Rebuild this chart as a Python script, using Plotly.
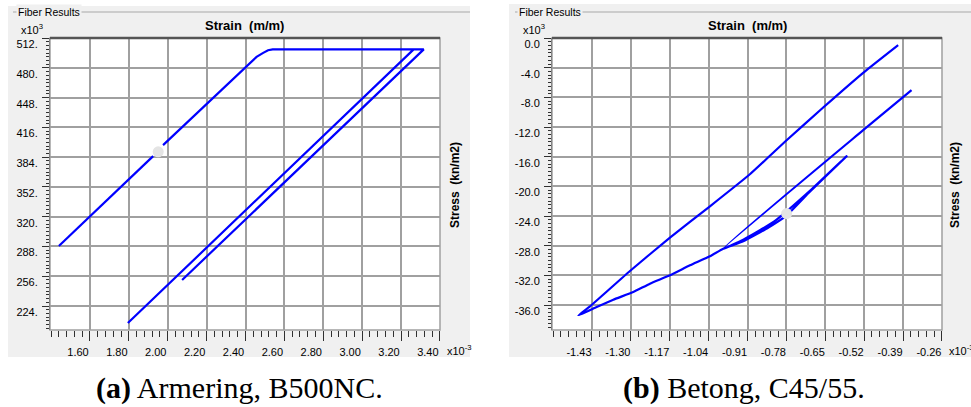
import plotly.graph_objects as go

W, H = 971, 407

# ---- Steel fibre (B500NC): strain [x10^-3], stress [x10^3 kN/m2] ----
steel_strain = [1.440, 1.925, None, 1.976, 2.388, 2.457, 2.491, 2.516, 2.540,
                3.265, 1.795, 3.265, 3.317, 2.074]
steel_stress = [288.5, 385.2, None, 397.0, 477.6, 491.9, 496.2, 499.1, 500.0,
                500.0, 205.7, 500.0, 500.0, 252.0]
steel_cursor_strain = [1.951]
steel_cursor_stress = [389.8]

steel_xticks = [1.60, 1.80, 2.00, 2.20, 2.40, 2.60, 2.80, 3.00, 3.20, 3.40]
steel_xlabels = ["1.60", "1.80", "2.00", "2.20", "2.40", "2.60", "2.80", "3.00", "3.20", "3.40"]
steel_yticks = [224, 256, 288, 320, 352, 384, 416, 448, 480, 512]
steel_ylabels = ["224.", "256.", "288.", "320.", "352.", "384.", "416.", "448.", "480.", "512."]

# ---- Concrete fibre (C45/55): strain [x10^-3], stress [x10^3 kN/m2] ----
concrete_strain = [-0.3616, -0.5233, -0.9912,
                   -0.9243, -0.8686, -0.8127, -0.7014, -0.5789,
                   -0.7050, -0.7800, -0.8400, -0.9243, -0.9912,
                   -1.0356, -1.1025, -1.1693, -1.2362, -1.2920, -1.3588, -1.4143, -1.4757,
                   -1.4367, -1.3030, -1.1693, -1.0356, -0.9020, -0.7793, -0.6570, -0.5233, -0.4063]
concrete_stress = [-7.02, -12.42, -28.40,
                   -27.18, -25.92, -24.48, -20.61, -15.93,
                   -20.85, -23.95, -25.55, -27.40, -28.40,
                   -29.43, -30.65, -32.00, -33.12, -34.25, -35.28, -36.27, -37.40,
                   -36.18, -31.41, -26.91, -22.68, -18.36, -13.77, -9.36, -4.68, -0.945]
concrete_cursor_strain = [-0.7793]
concrete_cursor_stress = [-23.67]

concrete_xticks = [-1.43, -1.30, -1.17, -1.04, -0.91, -0.78, -0.65, -0.52, -0.39, -0.26]
concrete_xlabels = ["-1.43", "-1.30", "-1.17", "-1.04", "-0.91", "-0.78", "-0.65", "-0.52", "-0.39", "-0.26"]
concrete_yticks = [-36, -32, -28, -24, -20, -16, -12, -8, -4, 0]
concrete_ylabels = ["-36.0", "-32.0", "-28.0", "-24.0", "-20.0", "-16.0", "-12.0", "-8.0", "-4.0", "0.0"]

captions = ["<b>(a)</b> Armering, B500NC.", "<b>(b)</b> Betong, C45/55."]

PANEL_BG = "#F0F0F0"
GRID = "#A0A0A0"
AXIS = "#303030"
LINE = "#0000FF"
UI_FONT = "Liberation Sans, Arial, sans-serif"


def fx(p):
    return p / W


def fy(p):
    return 1 - p / H


fig = go.Figure()

fig.add_trace(go.Scatter(x=steel_strain, y=steel_stress, mode="lines",
                         line=dict(color=LINE, width=2.2), xaxis="x", yaxis="y",
                         connectgaps=False, hoverinfo="skip"))
fig.add_trace(go.Scatter(x=steel_cursor_strain, y=steel_cursor_stress, mode="markers",
                         marker=dict(color="#E4E4E4", size=11), xaxis="x", yaxis="y"))
fig.add_trace(go.Scatter(x=concrete_strain, y=concrete_stress, mode="lines",
                         line=dict(color=LINE, width=2.2, shape="spline", smoothing=0.4),
                         xaxis="x2", yaxis="y2", hoverinfo="skip"))
fig.add_trace(go.Scatter(x=concrete_cursor_strain, y=concrete_cursor_stress, mode="markers",
                         marker=dict(color="#E4E4E4", size=11), xaxis="x2", yaxis="y2"))

tick_font = dict(family=UI_FONT, size=11, color="#000000")


def xaxis_cfg(x0px, x1px, rng, vals, labels, minor_dtick, anchor, shift):
    return dict(domain=[fx(x0px), fx(x1px)], range=rng, anchor=anchor, automargin=False,
                tickmode="array", tickvals=vals, ticktext=labels,
                ticks="outside", ticklen=10, tickwidth=1, tickcolor=AXIS,
                minor=dict(ticks="outside", ticklen=6, tickwidth=1, tickcolor=AXIS,
                           tick0=vals[0], dtick=minor_dtick, showgrid=False),
                showgrid=True, gridcolor=GRID, gridwidth=1.5,
                zeroline=False, showline=False,
                tickfont=tick_font, ticklabelshift=shift, ticklabelstandoff=2,
                fixedrange=True)


def yaxis_cfg(rng, vals, labels, minor_dtick, anchor):
    return dict(domain=[fy(330), fy(38)], range=rng, anchor=anchor, automargin=False,
                tickmode="array", tickvals=vals, ticktext=labels,
                ticks="outside", ticklen=7, tickwidth=1, tickcolor=AXIS,
                minor=dict(ticks="outside", ticklen=3, tickwidth=1, tickcolor=AXIS,
                           tick0=vals[0], dtick=minor_dtick, showgrid=False),
                showgrid=True, gridcolor=GRID, gridwidth=1.5,
                zeroline=False, showline=True, linecolor=AXIS, linewidth=1,
                tickfont=tick_font, ticklabelshift=6, ticklabelstandoff=2,
                fixedrange=True)


shapes = []
# window panels
shapes.append(dict(type="rect", xref="paper", yref="paper", x0=fx(8), x1=fx(470),
                   y0=fy(357), y1=fy(6), fillcolor=PANEL_BG, line=dict(width=0), layer="below"))
shapes.append(dict(type="rect", xref="paper", yref="paper", x0=fx(509), x1=fx(971),
                   y0=fy(357), y1=fy(4), fillcolor=PANEL_BG, line=dict(width=0), layer="below"))
# group-box rules
for x0, x1 in [(13, 470), (515, 971)]:
    shapes.append(dict(type="line", xref="paper", yref="paper", x0=fx(x0), x1=fx(x1),
                       y0=fy(12), y1=fy(12), line=dict(color="#A8A8A8", width=1)))
# plot areas: white field, frame and heavy top rule
for x0, x1 in [(50, 440), (552, 942)]:
    shapes.append(dict(type="rect", xref="paper", yref="paper", x0=fx(x0), x1=fx(x1),
                       y0=fy(330), y1=fy(38), fillcolor="white", line=dict(width=0), layer="below"))
    shapes.append(dict(type="rect", xref="paper", yref="paper", x0=fx(x0), x1=fx(x1),
                       y0=fy(330), y1=fy(38), line=dict(color=GRID, width=1.5), layer="above"))
    shapes.append(dict(type="line", xref="paper", yref="paper", x0=fx(x0), x1=fx(x1),
                       y0=fy(38), y1=fy(38), line=dict(color="#555555", width=2.5)))

annotations = []
for gx in [16, 517]:
    annotations.append(dict(text="Fiber Results", xref="paper", yref="paper", x=fx(gx), y=fy(12),
                            xanchor="left", yanchor="middle", showarrow=False, bgcolor=PANEL_BG,
                            borderpad=1, font=dict(family=UI_FONT, size=10.5, color="#000000")))
for cx in [245, 747]:
    annotations.append(dict(text="Strain\u00a0\u00a0(m/m)", xref="paper", yref="paper", x=fx(cx), y=fy(25),
                            xanchor="center", yanchor="middle", showarrow=False,
                            font=dict(family=UI_FONT, size=13, color="#000000", weight="bold")))
for sx in [455, 955]:
    annotations.append(dict(text="Stress\u00a0\u00a0(kn/m2)", xref="paper", yref="paper", x=fx(sx), y=fy(185),
                            xanchor="center", yanchor="middle", showarrow=False, textangle=-90,
                            font=dict(family=UI_FONT, size=12, color="#000000", weight="bold")))
for ex in [19, 521]:
    annotations.append(dict(text="x10<sup>3</sup>", xref="paper", yref="paper", x=fx(ex), y=fy(29),
                            xanchor="left", yanchor="middle", showarrow=False,
                            font=dict(family=UI_FONT, size=11, color="#000000")))
for ex in [445, 947]:
    annotations.append(dict(text="x10<sup>-3</sup>", xref="paper", yref="paper", x=fx(ex), y=fy(350),
                            xanchor="left", yanchor="middle", showarrow=False,
                            font=dict(family=UI_FONT, size=11, color="#000000")))
for cx, txt in zip([239, 744], captions):
    annotations.append(dict(text=txt, xref="paper", yref="paper", x=fx(cx), y=fy(388),
                            xanchor="center", yanchor="middle", showarrow=False,
                            font=dict(family="Liberation Serif, DejaVu Serif, serif", size=30,
                                      color="#000000")))

fig.update_layout(
    width=W, height=H,
    margin=dict(l=0, r=0, t=0, b=0, autoexpand=False),
    paper_bgcolor="white",
    plot_bgcolor="rgba(0,0,0,0)",
    showlegend=False,
    xaxis=xaxis_cfg(50, 440, [1.3944, 3.4005], steel_xticks, steel_xlabels, 0.04, "y", -12),
    yaxis=yaxis_cfg([198.2, 512.2], steel_yticks, steel_ylabels, 4, "x"),
    xaxis2=xaxis_cfg(552, 942, [-1.5637, -0.2597], concrete_xticks, concrete_xlabels, 0.026, "y2", -13),
    yaxis2=yaxis_cfg([-39.37, 0.02], concrete_yticks, concrete_ylabels, 0.5, "x2"),
    shapes=shapes,
    annotations=annotations,
)

fig.write_html("out.html")
